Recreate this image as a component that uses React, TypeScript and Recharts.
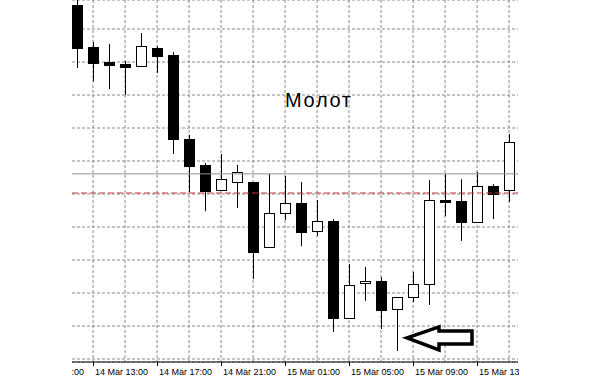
import React from 'react';
import {
  ComposedChart,
  Bar,
  XAxis,
  YAxis,
  CartesianGrid,
  ReferenceLine,
  ReferenceDot,
} from 'recharts';

// hourly candles, 14 Mar 12:00 .. 15 Mar 15:00
const times = [
  '14 Mar 12:00', '14 Mar 13:00', '14 Mar 14:00', '14 Mar 15:00', '14 Mar 16:00',
  '14 Mar 17:00', '14 Mar 18:00', '14 Mar 19:00', '14 Mar 20:00', '14 Mar 21:00',
  '14 Mar 22:00', '14 Mar 23:00', '15 Mar 00:00', '15 Mar 01:00', '15 Mar 02:00',
  '15 Mar 03:00', '15 Mar 04:00', '15 Mar 05:00', '15 Mar 06:00', '15 Mar 07:00',
  '15 Mar 08:00', '15 Mar 09:00', '15 Mar 10:00', '15 Mar 11:00', '15 Mar 12:00',
  '15 Mar 13:00', '15 Mar 14:00', '15 Mar 15:00',
];
const opens = [
  1.31073, 1.30945, 1.309, 1.30894, 1.30888, 1.30942, 1.30921, 1.30667, 1.30588, 1.30512,
  1.30536, 1.30536, 1.30339, 1.30442, 1.30473, 1.30388, 1.30418, 1.30124, 1.3023, 1.30236,
  1.30152, 1.30188, 1.30227, 1.30482, 1.30479, 1.30415, 1.30524, 1.30512,
];
const highs = [
  1.31112, 1.30961, 1.30955, 1.30903, 1.30988, 1.30948, 1.3093, 1.30679, 1.30594, 1.30621,
  1.30588, 1.30536, 1.30561, 1.30555, 1.30536, 1.30482, 1.30424, 1.30288, 1.30279, 1.30248,
  1.30188, 1.30264, 1.30542, 1.30561, 1.30545, 1.30567, 1.3053, 1.30682,
];
const lows = [
  1.30882, 1.30842, 1.30818, 1.308, 1.30888, 1.30867, 1.30621, 1.30506, 1.30448, 1.30512,
  1.30458, 1.30242, 1.30339, 1.30421, 1.30342, 1.30373, 1.30082, 1.30124, 1.30176, 1.30091,
  1.30024, 1.30173, 1.30164, 1.30433, 1.30358, 1.30415, 1.30424, 1.30476,
];
const closes = [
  1.30942, 1.30897, 1.30891, 1.30885, 1.30948, 1.30918, 1.30667, 1.30585, 1.30509, 1.30545,
  1.30567, 1.30324, 1.30442, 1.30473, 1.30385, 1.30418, 1.30124, 1.30224, 1.30236, 1.30148,
  1.30188, 1.30227, 1.30482, 1.30476, 1.30415, 1.30524, 1.305, 1.30658,
];
const priceGrid = [1.3, 1.301, 1.302, 1.303, 1.304, 1.305, 1.306, 1.307, 1.308, 1.309, 1.31];
const bidLine = 1.30561;
const askLine = 1.30503;
const title = 'Молот';
const prevLabel = '14 Mar 09:00';
const xDomain = [-0.3125, 27.5625];

const data = times.map((t, i) => ({
  i,
  time: t,
  open: opens[i],
  high: highs[i],
  low: lows[i],
  close: closes[i],
}));

const gridTicks = data.filter((d) => d.i % 2 === 1).map((d) => d.i);

const Candle = (props: any) => {
  const { x, y, width, height, payload } = props;
  if (x == null || y == null) return null;
  const top = Math.min(y, y + height);
  const bottom = Math.max(y, y + height);
  const span = payload.high - payload.low || 1;
  const toY = (p: number) => top + ((payload.high - p) / span) * (bottom - top);
  const cx = Math.round(x + width / 2) + 0.5;
  const up = payload.close >= payload.open;
  const yo = toY(payload.open);
  const yc = toY(payload.close);
  const bTop = Math.round(Math.min(yo, yc)) + 0.5;
  const bH = Math.max(1, Math.round(Math.abs(yo - yc)));
  return (
    <g>
      <line x1={cx} x2={cx} y1={top} y2={bottom} stroke="#000" strokeWidth={1} />
      <rect
        x={cx - 5}
        y={bTop}
        width={10}
        height={bH}
        fill={up ? '#fff' : '#000'}
        stroke="#000"
        strokeWidth={1}
      />
    </g>
  );
};

const TimeTick = (props: any) => {
  const { x, y, payload } = props;
  const v = payload.value;
  if ((v - 1) % 4 !== 0) return null;
  return (
    <g>
      <defs>
        <clipPath id="tick-clip">
          <rect x={72} y={y} width={447} height={20} />
        </clipPath>
      </defs>
      <line x1={x + 0.5} x2={x + 0.5} y1={y} y2={y + 4} stroke="#000" />
      <g clipPath="url(#tick-clip)">
        {v === 1 && (
          <text x={x - 62} y={y + 13} fontSize={9} fontFamily="Liberation Sans, Arial" fill="#000">
            {prevLabel}
          </text>
        )}
        <text x={x + 2} y={y + 13} fontSize={9} fontFamily="Liberation Sans, Arial" fill="#000">
          {times[v]}
        </text>
      </g>
    </g>
  );
};

const Arrow = (props: any) => {
  const { cx, cy } = props;
  const d = `M${cx},${cy} L${cx + 32},${cy - 11} L${cx + 32},${cy - 7} L${cx + 65},${cy - 7} L${cx + 65},${cy + 6} L${cx + 32},${cy + 6} L${cx + 32},${cy + 12} Z`;
  return <path d={d} fill="#fff" stroke="#000" strokeWidth={3.5} strokeLinejoin="miter" />;
};

const Title = (props: any) => {
  const { cx, cy } = props;
  return (
    <text x={cx} y={cy} fontSize={20} fontFamily="Liberation Sans, Arial" fill="#000" textLength={66}>
      {title}
    </text>
  );
};

// vertical grid only at the odd-hour ticks, not at the plot edges
const verticalGen = (p: any) => {
  const off = p?.offset;
  if (!off) return [];
  const span = xDomain[1] - xDomain[0];
  return gridTicks.map((t) => off.left + ((t - xDomain[0]) / span) * off.width);
};

export default function App() {
  return (
    <div style={{ position: 'absolute', left: 0, top: 0, width: 591, height: 380, background: '#fff' }}>
      <ComposedChart
        width={591}
        height={380}
        data={data}
        margin={{ top: 0, right: 73, left: 72, bottom: 0 }}
      >
        <CartesianGrid
          stroke="#8a8a8a"
          strokeDasharray="3 2"
          verticalCoordinatesGenerator={verticalGen}
        />
        <XAxis
          type="number"
          dataKey="i"
          domain={xDomain}
          ticks={gridTicks}
          interval={0}
          height={18}
          tickLine={false}
          tickSize={0}
          tickMargin={0}
          axisLine={{ stroke: '#000' }}
          tick={<TimeTick />}
          allowDataOverflow
        />
        <YAxis
          hide
          type="number"
          domain={[1.299909, 1.310879]}
          ticks={priceGrid}
          allowDataOverflow
        />
        <ReferenceLine y={bidLine} stroke="#8a9494" strokeWidth={1} />
        <ReferenceLine y={askLine} stroke="#c8323c" strokeDasharray="6 3" />
        <Bar
          dataKey={(d: any) => [d.low, d.high]}
          barSize={11}
          shape={<Candle />}
          isAnimationActive={false}
        />
        <ReferenceDot x={13} y={1.30764} r={0} shape={<Title />} />
        <ReferenceDot x={20.625} y={1.30064} r={0} shape={<Arrow />} />
      </ComposedChart>
    </div>
  );
}
